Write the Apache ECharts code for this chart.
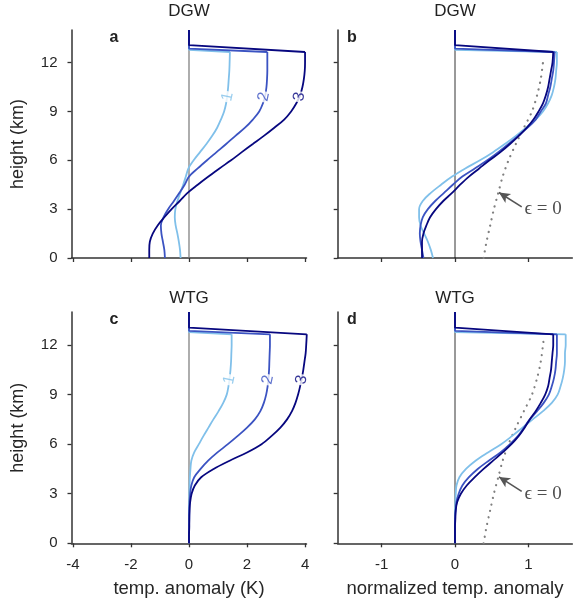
<!DOCTYPE html>
<html>
<head>
<meta charset="utf-8">
<script src="https://cdn.jsdelivr.net/npm/echarts@6/dist/echarts.min.js"></script>
<style>
  html, body { margin: 0; padding: 0; background: #fff; }
  #chart { width: 582px; height: 603px; }
</style>
</head>
<body>
<div id="chart"></div>
<script>
// heights (km) at which the profiles are read
const heights = [0, 0.5, 1, 1.5, 2, 2.5, 3, 3.5, 4, 4.5, 5, 5.5, 6, 6.5, 7, 7.5, 8, 8.5, 9, 9.5, 10, 10.5, 11, 11.5, 12, 12.65];

// DGW, temp. anomaly (K), curves 1..3
const dgwAbs1 = [-0.29, -0.31, -0.35, -0.4, -0.46, -0.49, -0.47, -0.4, -0.3, -0.2, -0.11, -0.02, 0.16, 0.38, 0.6, 0.8, 0.97, 1.1, 1.21, 1.28, 1.32, 1.35, 1.37, 1.39, 1.4, 1.41];
const dgwAbs2 = [-0.83, -0.85, -0.9, -0.95, -0.97, -0.88, -0.72, -0.52, -0.33, -0.15, 0.0, 0.3, 0.62, 0.95, 1.28, 1.6, 1.93, 2.2, 2.42, 2.55, 2.63, 2.67, 2.69, 2.7, 2.7, 2.7];
const dgwAbs3 = [-1.37, -1.37, -1.35, -1.25, -1.08, -0.85, -0.6, -0.32, -0.05, 0.3, 0.67, 1.05, 1.45, 1.82, 2.2, 2.58, 2.94, 3.28, 3.52, 3.7, 3.83, 3.91, 3.96, 3.99, 4.0, 4.0];

// DGW, normalized
const dgwNorm1 = [-0.3, -0.33, -0.37, -0.42, -0.47, -0.49, -0.49, -0.44, -0.33, -0.19, -0.04, 0.14, 0.34, 0.52, 0.68, 0.83, 0.97, 1.1, 1.2, 1.27, 1.32, 1.35, 1.37, 1.38, 1.39, 1.39];
const dgwNorm2 = [-0.43, -0.45, -0.47, -0.48, -0.47, -0.44, -0.37, -0.27, -0.15, -0.03, 0.1, 0.27, 0.44, 0.59, 0.73, 0.86, 0.99, 1.1, 1.17, 1.24, 1.27, 1.3, 1.32, 1.34, 1.35, 1.36];
const dgwNorm3 = [-0.45, -0.45, -0.45, -0.43, -0.39, -0.34, -0.26, -0.16, -0.04, 0.07, 0.19, 0.33, 0.47, 0.62, 0.75, 0.87, 0.98, 1.07, 1.14, 1.2, 1.24, 1.27, 1.29, 1.31, 1.33, 1.34];

// WTG, temp. anomaly (K)
const wtgAbs1 = [0, 0, 0, 0, 0, 0.01, 0.01, 0.02, 0.03, 0.05, 0.08, 0.18, 0.34, 0.5, 0.67, 0.84, 1.02, 1.18, 1.3, 1.36, 1.4, 1.43, 1.45, 1.46, 1.47, 1.47];
const wtgAbs2 = [0, 0, 0, 0.01, 0.01, 0.02, 0.04, 0.08, 0.18, 0.4, 0.66, 0.98, 1.34, 1.68, 2.0, 2.27, 2.46, 2.58, 2.66, 2.71, 2.74, 2.76, 2.77, 2.78, 2.79, 2.79];
const wtgAbs3 = [0, 0, 0.01, 0.01, 0.02, 0.04, 0.09, 0.2, 0.42, 0.85, 1.4, 2.0, 2.5, 2.85, 3.15, 3.38, 3.55, 3.67, 3.76, 3.83, 3.89, 3.94, 3.98, 4.02, 4.04, 4.06];

// WTG, normalized
const wtgNorm1 = [0, 0, 0, 0, 0, 0.005, 0.01, 0.02, 0.06, 0.15, 0.28, 0.45, 0.63, 0.78, 0.92, 1.06, 1.2, 1.32, 1.4, 1.44, 1.47, 1.49, 1.5, 1.5, 1.51, 1.51];
const wtgNorm2 = [0, 0, 0, 0, 0.01, 0.02, 0.05, 0.1, 0.19, 0.31, 0.46, 0.62, 0.75, 0.86, 0.94, 1.02, 1.12, 1.21, 1.28, 1.32, 1.35, 1.37, 1.38, 1.39, 1.39, 1.39];
const wtgNorm3 = [0, 0, 0, 0.005, 0.01, 0.03, 0.08, 0.16, 0.27, 0.39, 0.52, 0.65, 0.77, 0.87, 0.95, 1.02, 1.1, 1.17, 1.23, 1.27, 1.29, 1.31, 1.32, 1.33, 1.34, 1.34];

// heights where each curve returns to zero above the tropopause
const dgwJoin = [12.78, 12.86, 13.07];
const wtgJoin = [12.78, 12.86, 13.05];

// epsilon = 0 reference profile (normalized)
const epsHeights = [0, 1, 2, 3, 4, 5, 6, 7, 8, 9, 10, 11, 12, 12.35];
const epsZero = [0.39, 0.43, 0.48, 0.53, 0.59, 0.65, 0.73, 0.83, 0.94, 1.05, 1.12, 1.17, 1.2, 1.21];

// inline curve labels
const curveNames = ['1', '2', '3'];
const dgwLabelX = [1.33, 2.58, 3.8];
const wtgLabelX = [1.39, 2.72, 3.88];
const labelHeight = 9.9;

const absTicks = [-4, -2, 0, 2, 4];
const normTicks = [-1, 0, 1];
const heightTicks = [0, 3, 6, 9, 12];

const colors = ['#80c0ea', '#3b53c2', '#07077f'];
const sans = '"Liberation Sans", Arial, sans-serif';
const clear = 'rgba(0,0,0,0)';

const grids = [
  {left: 71.5, top: 30, width: 235, height: 228, outerBoundsMode: 'none'},
  {left: 337.7, top: 30, width: 234.6, height: 228, outerBoundsMode: 'none'},
  {left: 71.5, top: 312, width: 235, height: 231.3, outerBoundsMode: 'none'},
  {left: 337.7, top: 312, width: 234.6, height: 231.3, outerBoundsMode: 'none'}
];

const xAxes = [0, 1, 2, 3].map(i => {
  const isAbs = i % 2 === 0;
  const ticks = isAbs ? absTicks : normTicks;
  return {
    type: 'value', gridIndex: i,
    min: isAbs ? -4.05 : -1.6, max: isAbs ? 4.05 : 1.6,
    axisLine: {show: true, onZero: false, lineStyle: {color: '#333', width: 1.5}},
    axisTick: {show: true, length: 4, customValues: ticks, lineStyle: {color: '#333', width: 1.3}},
    axisLabel: {show: i >= 2, customValues: ticks, margin: 14, fontFamily: sans, fontSize: 15, color: '#262626'},
    splitLine: {show: false},
    name: i >= 2 ? (isAbs ? 'temp. anomaly (K)' : 'normalized temp. anomaly') : '',
    nameLocation: 'middle', nameGap: 36,
    nameTextStyle: {fontFamily: sans, fontSize: 18.5, color: '#262626'}
  };
});

const yAxes = [0, 1, 2, 3].map(i => ({
  type: 'value', gridIndex: i, min: 0, max: 14,
  axisLine: {show: true, onZero: false, lineStyle: {color: '#333', width: 1.5}},
  axisTick: {show: true, length: 4, customValues: heightTicks, lineStyle: {color: '#333', width: 1.3}},
  axisLabel: {show: i % 2 === 0, customValues: heightTicks, margin: 14, fontFamily: sans, fontSize: 15, color: '#262626'},
  splitLine: {show: false},
  name: i % 2 === 0 ? 'height (km)' : '',
  nameLocation: 'middle', nameGap: 44,
  nameTextStyle: {fontFamily: sans, fontSize: 18, color: '#262626'}
}));

const series = [];

function addPanel(p, curves, joins, labelX) {
  const isNorm = p % 2 === 1;
  series.push({
    type: 'line', xAxisIndex: p, yAxisIndex: p, silent: true, showSymbol: false,
    data: [[0, 0], [0, 14]],
    lineStyle: {color: isNorm ? '#000' : '#777', width: isNorm ? 0.8 : 1.2}
  });
  if (isNorm) {
    series.push({
      type: 'line', xAxisIndex: p, yAxisIndex: p, silent: true, showSymbol: false, smooth: 0.3,
      data: epsHeights.map((h, i) => [epsZero[i], h]),
      lineStyle: {color: '#808080', width: 2.2, type: [0.1, 6.5], cap: 'round'},
      markLine: {
        silent: true, symbol: ['none', 'arrow'], symbolSize: [8, 11],
        lineStyle: {color: '#555', width: 1.6, type: 'solid'},
        label: {show: false},
        data: [[{coord: [0.91, 3.14]}, {coord: [0.6, 4.02]}]]
      }
    });
    series.push({
      type: 'scatter', xAxisIndex: p, yAxisIndex: p, silent: true, z: 5,
      symbolSize: 1, itemStyle: {color: clear},
      data: [[0.94, 3.0]],
      label: {
        show: true, position: 'right', distance: 0, formatter: 'ϵ = 0',
        fontFamily: '"Liberation Serif", "DejaVu Serif", serif', fontSize: 19, color: '#222'
      }
    });
  }
  curves.forEach((xs, k) => {
    series.push({
      type: 'line', xAxisIndex: p, yAxisIndex: p, showSymbol: false, smooth: 0.35,
      data: heights.map((h, i) => [xs[i], h]),
      lineStyle: {color: colors[k], width: 1.8}
    });
    series.push({
      type: 'line', xAxisIndex: p, yAxisIndex: p, showSymbol: false,
      data: [[xs[xs.length - 1], heights[heights.length - 1]], [0, joins[k]], [0, 14]],
      lineStyle: {color: colors[k], width: 1.8}
    });
  });
  if (labelX) {
    series.push({
      type: 'scatter', xAxisIndex: p, yAxisIndex: p, silent: true, z: 5,
      symbolSize: 1, itemStyle: {color: clear},
      data: labelX.map((x, k) => ({
        value: [x, labelHeight],
        label: {formatter: curveNames[k], color: colors[k]}
      })),
      label: {
        show: true, position: 'inside', rotate: 78,
        fontFamily: sans, fontSize: 16, backgroundColor: '#fff', padding: [0, 1]
      }
    });
  }
}

addPanel(0, [dgwAbs1, dgwAbs2, dgwAbs3], dgwJoin, dgwLabelX);
addPanel(1, [dgwNorm1, dgwNorm2, dgwNorm3], dgwJoin, null);
addPanel(2, [wtgAbs1, wtgAbs2, wtgAbs3], wtgJoin, wtgLabelX);
addPanel(3, [wtgNorm1, wtgNorm2, wtgNorm3], wtgJoin, null);

function txt(x, y, text, font) {
  return {type: 'text', x: x, y: y, silent: true,
    style: {text: text, font: font, fill: '#222', align: 'center', verticalAlign: 'middle'}};
}

const chart = echarts.init(document.getElementById('chart'));
chart.setOption({
  animation: false,
  grid: grids,
  xAxis: xAxes,
  yAxis: yAxes,
  series: series,
  graphic: [
    txt(189, 11, 'DGW', '17px ' + sans),
    txt(455, 11, 'DGW', '17px ' + sans),
    txt(189, 298, 'WTG', '17px ' + sans),
    txt(455, 298, 'WTG', '17px ' + sans),
    txt(114, 38, 'a', 'bold 16px ' + sans),
    txt(352, 38, 'b', 'bold 16px ' + sans),
    txt(114, 320, 'c', 'bold 16px ' + sans),
    txt(352, 320, 'd', 'bold 16px ' + sans)
  ]
});
</script>
</body>
</html>
